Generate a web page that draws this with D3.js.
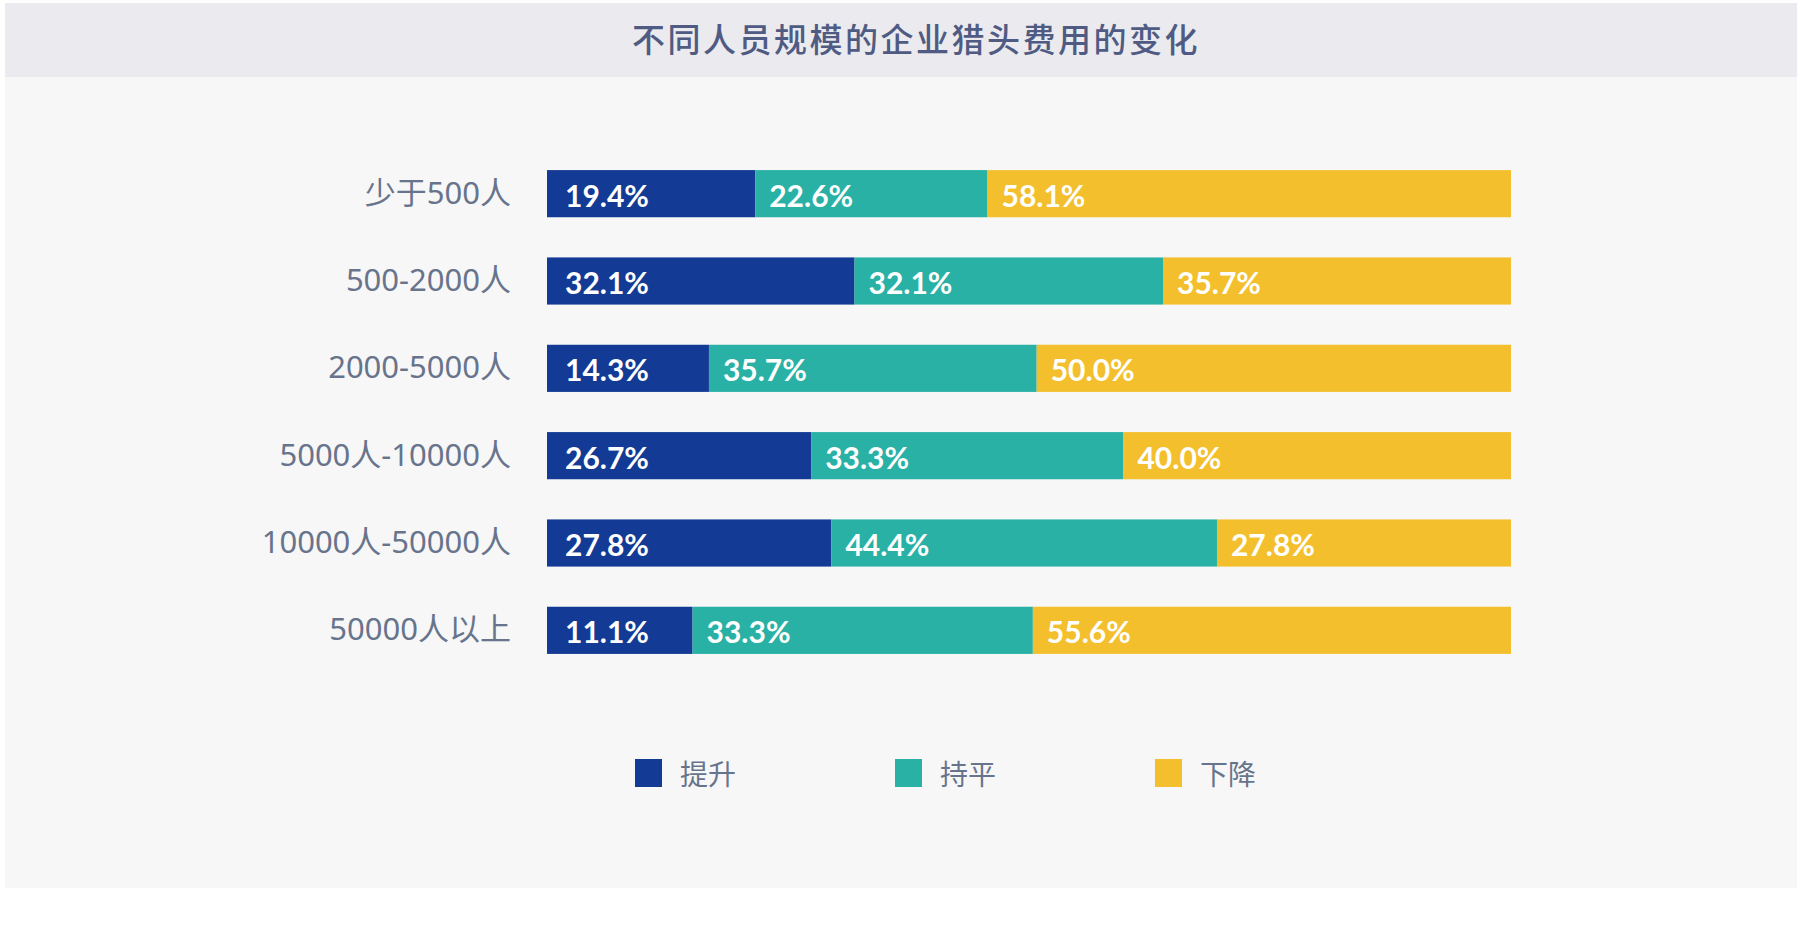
<!DOCTYPE html>
<html>
<head>
<meta charset="utf-8">
<script src="https://cdn.jsdelivr.net/npm/d3@7"></script>
<style>
  body { margin: 0; background: #ffffff; }
  svg { display: block; }
</style>
</head>
<body>
<svg id="chart"></svg>
<script>
// chart data
const title = "不同人员规模的企业猎头费用的变化"
const categories = ["少于500人", "500-2000人", "2000-5000人", "5000人-10000人", "10000人-50000人", "50000人以上"]
const seriesNames = ["提升", "持平", "下降"]
// segment shares as drawn in the picture (they do not add up exactly to the printed labels)
const riseValues = [21.6, 31.9, 16.8, 27.4, 29.5, 15.1]
const flatValues = [24.1, 32.0, 34.0, 32.4, 40.0, 35.3]
const fallValues = [54.3, 36.1, 49.2, 40.2, 30.5, 49.6]
// printed labels
const riseLabels = ["19.4%", "32.1%", "14.3%", "26.7%", "27.8%", "11.1%"]
const flatLabels = ["22.6%", "32.1%", "35.7%", "33.3%", "44.4%", "33.3%"]
const fallLabels = ["58.1%", "35.7%", "50.0%", "40.0%", "27.8%", "55.6%"]

const colors = ["#133a94", "#29b1a5", "#f3bf2d"]

const width = 1801
const height = 927

const svg = d3.select("#chart")
    .attr("width", width)
    .attr("height", height)

// background panels
svg.append("rect")
    .attr("x", 5).attr("y", 77)
    .attr("width", 1792).attr("height", 811)
    .attr("fill", "#f7f7f8")
svg.append("rect")
    .attr("x", 5).attr("y", 3)
    .attr("width", 1792).attr("height", 74)
    .attr("fill", "#eaeaef")

svg.append("text")
    .attr("x", 916)
    .attr("y", 38)
    .attr("text-anchor", "middle")
    .attr("dominant-baseline", "central")
    .attr("font-family", "'Noto Sans CJK SC', sans-serif")
    .attr("font-weight", 500)
    .attr("font-size", 33)
    .attr("letter-spacing", "2.5px")
    .attr("fill", "#4f5b82")
    .text(title)

const rows = categories.map((c, i) => ({
    category: c,
    "提升": riseValues[i],
    "持平": flatValues[i],
    "下降": fallValues[i],
    labels: [riseLabels[i], flatLabels[i], fallLabels[i]]
}))

const x = d3.scaleLinear()
    .domain([0, 100])
    .range([547, 1511])

const y = d3.scaleBand()
    .domain(categories)
    .range([150, 674])
    .paddingInner(0.46)
    .paddingOuter(0.23)

const color = d3.scaleOrdinal()
    .domain(seriesNames)
    .range(colors)

const stacked = d3.stack().keys(seriesNames)(rows)

const layer = svg.append("g")
    .selectAll("g")
    .data(stacked)
    .join("g")
    .attr("fill", d => color(d.key))

layer.selectAll("rect")
    .data(d => d)
    .join("rect")
    .attr("x", d => x(d[0]))
    .attr("y", d => y(d.data.category))
    .attr("width", d => x(d[1]) - x(d[0]))
    .attr("height", y.bandwidth())

// value labels inside the segments
svg.append("g")
    .selectAll("g")
    .data(stacked)
    .join("g")
    .selectAll("text")
    .data((d, si) => d.map(s => ({ s, si })))
    .join("text")
    .attr("x", d => x(d.s[0]) + (d.si === 0 ? 18 : 14))
    .attr("y", d => y(d.s.data.category) + y.bandwidth() / 2 + 1)
    .attr("dominant-baseline", "central")
    .attr("font-family", "Lato, sans-serif")
    .attr("font-weight", 700)
    .attr("font-size", 30)
    .attr("fill", "#ffffff")
    .text(d => d.s.data.labels[d.si])

// category axis
const yAxis = g => g
    .attr("transform", `translate(${x(0)},0)`)
    .call(d3.axisLeft(y).tickSize(0).tickPadding(36))
    .call(g => g.select(".domain").remove())
    .call(g => g.selectAll("text")
        .attr("font-family", "'Noto Sans', 'Noto Sans CJK SC', sans-serif")
        .attr("font-size", 31)
        .attr("fill", "#68748c"))

svg.append("g").call(yAxis)

// legend
const legendX = d3.scalePoint()
    .domain(seriesNames)
    .range([635, 1155])

const legend = svg.append("g")
    .selectAll("g")
    .data(seriesNames)
    .join("g")
    .attr("transform", d => `translate(${legendX(d)},759)`)

legend.append("rect")
    .attr("width", 27)
    .attr("height", 28)
    .attr("fill", d => color(d))

legend.append("text")
    .attr("x", 45)
    .attr("y", 14)
    .attr("dominant-baseline", "central")
    .attr("font-family", "'Noto Sans CJK SC', sans-serif")
    .attr("font-size", 28)
    .attr("fill", "#68748c")
    .text(d => d)
</script>
</body>
</html>
